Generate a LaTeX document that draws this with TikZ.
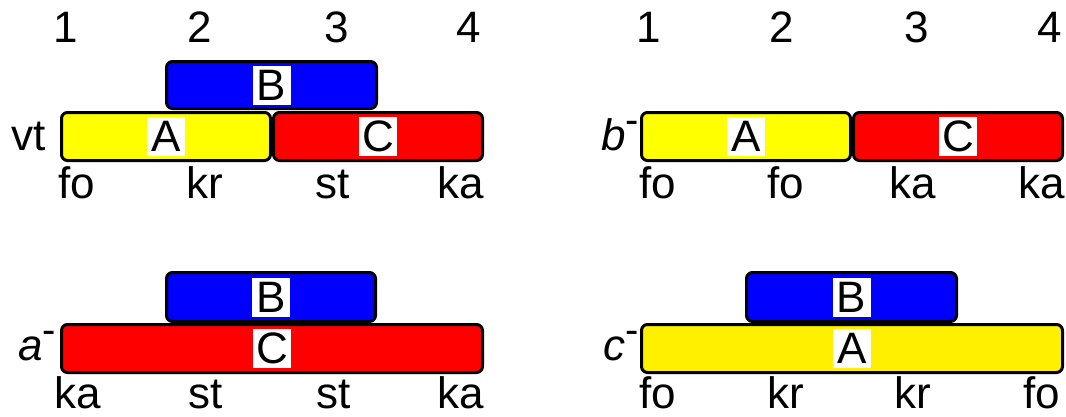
\documentclass[tikz,border=0pt]{standalone}
\usepackage{fontspec}
\setmainfont{Liberation Sans}
\definecolor{barred}{RGB}{255,0,0}
\definecolor{barblue}{RGB}{0,0,255}
\definecolor{baryellow}{RGB}{255,255,0}
\definecolor{bargold}{RGB}{255,240,0}
\newcommand{\negmark}{\kern0pt\raisebox{17pt}{\fontsize{40}{40}\selectfont -}}
\begin{document}
\begin{tikzpicture}[x=1pt,y=-1pt,
  every node/.style={font=\fontsize{44}{44}\selectfont},
  bar/.style={draw=black,line width=3pt,rounded corners=6pt,inner sep=0pt,anchor=north west},
  tag/.style={fill=white,inner sep=0pt,minimum width=38pt,minimum height=39pt},
  lbl/.style={inner sep=0pt,anchor=base}]
\useasboundingbox (0,0) rectangle (1066,416);

% ---- top left: vt ----
\foreach \n/\x in {1/66,2/200,3/337,4/469} \node[lbl] (tl\n) at (\x,42) {\n};
\node[bar,fill=barblue,minimum width=210pt,minimum height=47pt] (tlB) at (165,60) {};
\node[bar,fill=baryellow,minimum width=209pt,minimum height=48pt] (tlA) at (60,111) {};
\node[bar,fill=barred,minimum width=209pt,minimum height=48pt] (tlC) at (272,111) {};
\node[tag] at (tlB.center) {B};
\node[tag] at (tlA.center) {A};
\node[tag] at (tlC.center) {C};
\node[lbl] (vt) at (29,150) {vt};
\foreach \t/\x [count=\i] in {fo/77,kr/205,st/333,ka/461} \node[lbl] (tlb\i) at (\x,198) {\t};

% ---- top right: b- ----
\foreach \n/\x in {1/649,2/782,3/917,4/1050} \node[lbl] (tr\n) at (\x,42) {\n};
\node[bar,fill=baryellow,minimum width=209pt,minimum height=48pt] (trA) at (640,111) {};
\node[bar,fill=barred,minimum width=209pt,minimum height=48pt] (trC) at (852,111) {};
\node[tag] at (trA.center) {A};
\node[tag] at (trC.center) {C};
\node[lbl] (bm) at (620,150) {\itshape b\upshape\negmark};
\foreach \t/\x [count=\i] in {fo/658,fo/786,ka/913,ka/1042} \node[lbl] (trb\i) at (\x,198) {\t};

% ---- bottom left: a- ----
\node[bar,fill=barblue,minimum width=209pt,minimum height=49pt] (blB) at (165,271) {};
\node[bar,fill=barred,minimum width=421pt,minimum height=48pt] (blC) at (60,323) {};
\node[tag] at (blB.center) {B};
\node[tag] at (blC.center) {C};
\node[lbl] (am) at (37,360) {\itshape a\upshape\negmark};
\foreach \t/\x [count=\i] in {ka/78,st/206,st/334,ka/461} \node[lbl] (blb\i) at (\x,408) {\t};

% ---- bottom right: c- ----
\node[bar,fill=barblue,minimum width=210pt,minimum height=49pt] (brB) at (745,271) {};
\node[bar,fill=bargold,minimum width=421pt,minimum height=48pt] (brA) at (640,323) {};
\node[tag] at (brB.center) {B};
\node[tag] at (brA.center) {A};
\node[lbl] (cm) at (621,360) {\itshape c\upshape\negmark};
\foreach \t/\x [count=\i] in {fo/658,kr/786,kr/913,fo/1042} \node[lbl] (brb\i) at (\x,408) {\t};
\end{tikzpicture}
\end{document}
